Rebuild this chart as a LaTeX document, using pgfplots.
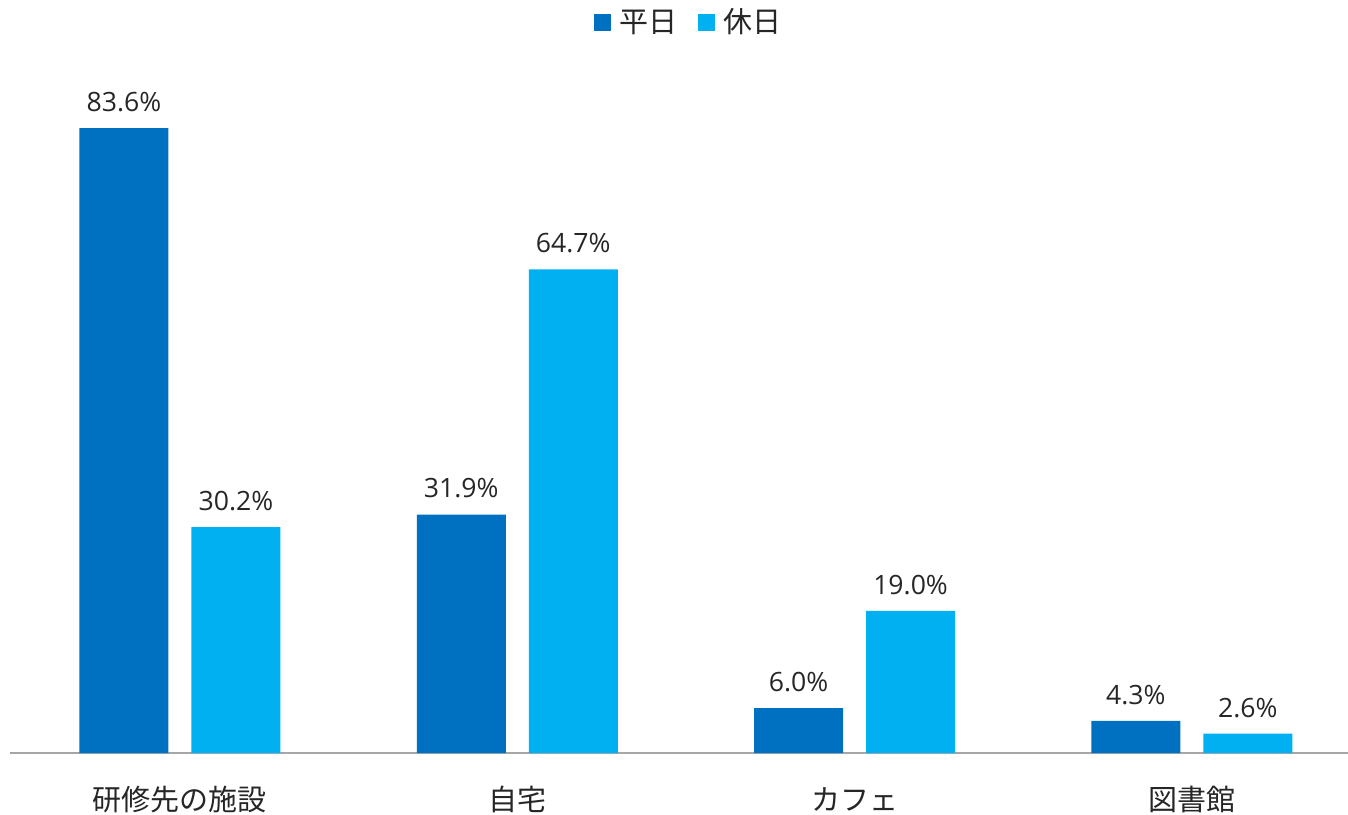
\documentclass[border=0pt]{standalone}
\usepackage{fontspec}
\setmainfont{Open Sans}
\newfontfamily\cjk{Noto Sans CJK JP}
\usepackage{pgfplots}
\pgfplotsset{compat=1.18}
\definecolor{cdark}{HTML}{0070C0}
\definecolor{clight}{HTML}{00B0F0}
\definecolor{ctext}{HTML}{262626}
\begin{document}
\begin{tikzpicture}[x=1pt,y=1pt]
\useasboundingbox (0,0) rectangle (674,407);
\begin{axis}[
  at={(5pt,30.5pt)}, anchor=south west,
  scale only axis, width=669pt, height=336.4pt,
  ybar=11.5pt, bar width=44.5pt,
  xmin=-0.504, xmax=3.463, ymin=0, ymax=90,
  axis x line*=bottom, axis y line=none,
  x axis line style={draw=black!35, line width=0.7pt, -},
  xtick={0,1,2,3},
  xticklabels={研修先の施設,自宅,カフェ,図書館},
  xtick style={draw=none},
  xticklabel style={font=\cjk\fontsize{14.5}{14.5}\selectfont, text=ctext, anchor=center, yshift=-19pt},
  ytick=\empty,
  clip=false,
  /pgf/number format/assume math mode=true,
  nodes near coords={\pgfmathprintnumber[fixed,fixed zerofill,precision=1]{\pgfplotspointmeta}\%},
  nodes near coords style={font=\fontsize{13.3}{13.3}\selectfont, text=ctext, anchor=center, yshift=13pt},
  legend style={draw=none, at={(0.508,1.086)}, anchor=center, legend columns=2,
    font=\cjk\fontsize{14.5}{14.5}\selectfont, text=ctext,
    /tikz/every odd column/.append style={column sep=2.5pt},
    /tikz/every even column/.append style={column sep=8pt}},
  legend image code/.code={\fill[#1] (0pt,-4.25pt) rectangle (8.5pt,4.25pt);},
]
\addplot[fill=cdark, draw=none] coordinates {(0,83.6) (1,31.9) (2,6.0) (3,4.3)};
\addplot[fill=clight, draw=none] coordinates {(0,30.2) (1,64.7) (2,19.0) (3,2.6)};
\legend{平日,休日}
\end{axis}
\end{tikzpicture}
\end{document}
